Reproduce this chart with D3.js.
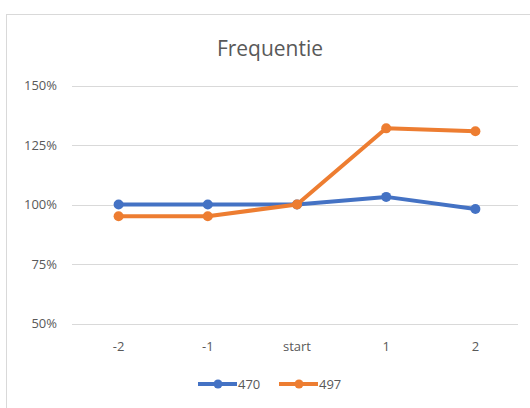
<!DOCTYPE html>
<html>
<head>
<meta charset="utf-8">
<script src="https://cdn.jsdelivr.net/npm/d3@7"></script>
<style>
  body { margin: 0; background: #fff; }
  text { font-family: "Open Sans", "Liberation Sans", sans-serif; fill: #595959; }
</style>
</head>
<body>
<div class="c_chart"></div>
<script>
/* DATA */
const categories = ["-2", "-1", "start", "1", "2"];
const series470 = [100, 100, 100, 103.2, 98.1];
const series497 = [95.1, 95.1, 100, 132, 130.8];
const yTicks = [50, 75, 100, 125, 150];
const seriesNames = ["470", "497"];
const colors = ["#4472C4", "#ED7D31"];

const width = 530, height = 408;

let svg = d3.select(".c_chart").append("svg")
  .attr("width", width)
  .attr("height", height);

/* chart area border, runs off the picture right and bottom */
svg.append("rect")
  .attr("x", 6.5).attr("y", 14.5)
  .attr("width", 600).attr("height", 600)
  .attr("fill", "#fff")
  .attr("stroke", "#d9d9d9");

svg.append("text")
  .attr("x", 270).attr("y", 56)
  .attr("text-anchor", "middle")
  .attr("font-size", 21)
  .text("Frequentie");

const x = d3.scaleBand().domain(categories).range([74, 520]);
const y = d3.scaleLinear().domain([50, 150]).range([323.5, 85.5]);

/* gridlines */
svg.append("g").selectAll("line")
  .data(yTicks).enter().append("line")
  .attr("x1", 72).attr("x2", 518)
  .attr("y1", d => Math.round(y(d)) + 0.5)
  .attr("y2", d => Math.round(y(d)) + 0.5)
  .attr("stroke", "#d9d9d9");

svg.append("g").selectAll("text")
  .data(yTicks).enter().append("text")
  .attr("x", 57)
  .attr("y", d => y(d) + 4.5)
  .attr("text-anchor", "end")
  .attr("font-size", 13)
  .text(d => d + "%");

svg.append("g").selectAll("text")
  .data(categories).enter().append("text")
  .attr("x", d => x(d) + x.bandwidth() / 2)
  .attr("y", 351)
  .attr("text-anchor", "middle")
  .attr("font-size", 13)
  .text(d => d);

/* lines */
const line = d3.line()
  .x((d, i) => x(categories[i]) + x.bandwidth() / 2)
  .y(d => y(d));

[series470, series497].forEach(function(s, k) {
  let g = svg.append("g");
  g.append("path")
    .attr("d", line(s))
    .attr("fill", "none")
    .attr("stroke", colors[k])
    .attr("stroke-width", 4)
    .attr("stroke-linejoin", "round");
  g.selectAll("circle")
    .data(s).enter().append("circle")
    .attr("cx", (d, i) => x(categories[i]) + x.bandwidth() / 2)
    .attr("cy", d => y(d))
    .attr("r", 5)
    .attr("fill", colors[k]);
});

/* legend */
const legendX = [198, 279];
seriesNames.forEach(function(name, k) {
  let g = svg.append("g").attr("transform", "translate(" + legendX[k] + ",384)");
  g.append("line")
    .attr("x1", 0).attr("x2", 39)
    .attr("stroke", colors[k]).attr("stroke-width", 4);
  g.append("circle").attr("cx", 20).attr("r", 4.5).attr("fill", colors[k]);
  g.append("text")
    .attr("x", 40).attr("y", 4.5)
    .attr("font-size", 13)
    .text(name);
});
</script>
</body>
</html>
